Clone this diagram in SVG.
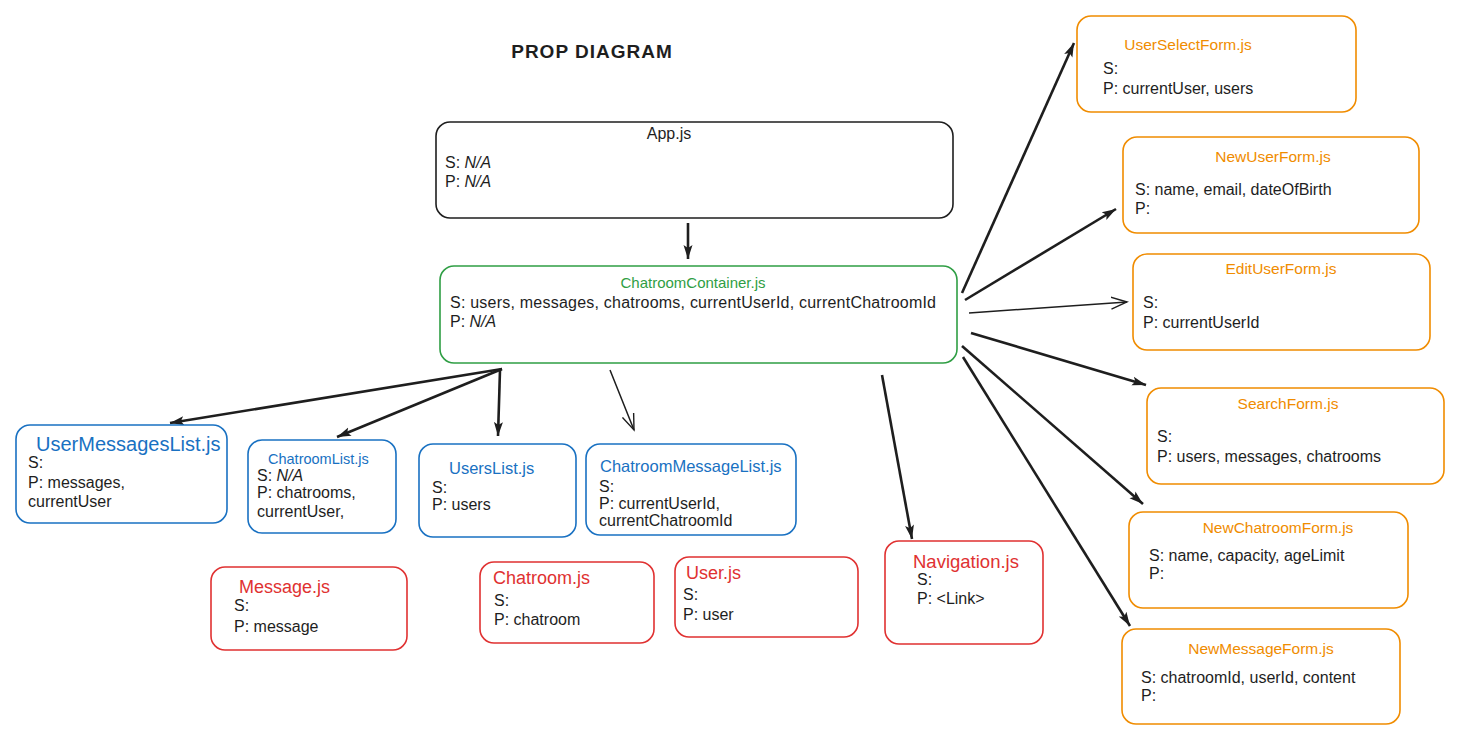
<svg xmlns="http://www.w3.org/2000/svg" width="1460" height="740" viewBox="0 0 1460 740">
<defs>
<marker id="ah" markerUnits="userSpaceOnUse" markerWidth="16" markerHeight="12" refX="14" refY="6" orient="auto">
<path d="M0,1.5 L14,6 L0,10.5 L3,6 z" fill="#1e1e1e"/>
</marker>
<marker id="ao" markerUnits="userSpaceOnUse" markerWidth="18" markerHeight="14" refX="16" refY="7" orient="auto">
<path d="M0,1 L16,7 L0,13" fill="none" stroke="#1e1e1e" stroke-width="1.4"/>
</marker>
<style>
text{font-family:"Liberation Sans",Arial,sans-serif;font-size:16px;fill:#1e1e1e}
.box{fill:#fff;stroke-width:1.6}
.k{stroke:#1e1e1e}.g{stroke:#2f9e44}.b{stroke:#1971c2}.r{stroke:#e03131}.o{stroke:#f08c00}
.tg{fill:#2f9e44}.tb{fill:#1971c2}.tr{fill:#e03131}.to{fill:#f08c00}
.c{text-anchor:middle}
.thick{stroke:#1e1e1e;stroke-width:2.6;fill:none;marker-end:url(#ah)}
.thin{stroke:#1e1e1e;stroke-width:1.5;fill:none;marker-end:url(#ao)}
</style>
</defs>
<rect width="1460" height="740" fill="#fff"/>
<text x="592" y="58" class="c" style="font-size:19px;font-weight:bold;letter-spacing:1px">PROP DIAGRAM</text>

<g id="connectors">
<line class="thick" x1="688" y1="223" x2="688" y2="259"/>
<line class="thick" x1="502" y1="369" x2="170" y2="423"/>
<line class="thick" x1="502" y1="369" x2="337" y2="437"/>
<line class="thick" x1="500" y1="370" x2="498" y2="436"/>
<line class="thin" x1="610" y1="370" x2="634" y2="430"/>
<line class="thick" x1="882" y1="375" x2="912" y2="539"/>
<line class="thick" x1="962" y1="293" x2="1074" y2="43"/>
<line class="thick" x1="965" y1="300" x2="1116" y2="209"/>
<line class="thin" x1="969" y1="313" x2="1127" y2="302"/>
<line class="thick" x1="971" y1="333" x2="1146" y2="385"/>
<line class="thick" x1="962" y1="346" x2="1143" y2="504"/>
<line class="thick" x1="963" y1="357" x2="1130" y2="626"/>
</g>

<g id="app">
<rect class="box k" x="436" y="122" width="517" height="96" rx="14"/>
<text x="669" y="139" class="c">App.js</text>
<text x="445" y="168">S: <tspan font-style="italic">N/A</tspan></text>
<text x="445" y="187">P: <tspan font-style="italic">N/A</tspan></text>
</g>

<g id="chatroomContainer">
<rect class="box g" x="440" y="266" width="517" height="97" rx="14"/>
<text x="693" y="288" class="c tg" style="font-size:15px">ChatroomContainer.js</text>
<text x="450" y="308" textLength="486" lengthAdjust="spacing">S: users, messages, chatrooms, currentUserId, currentChatroomId</text>
<text x="450" y="327">P: <tspan font-style="italic">N/A</tspan></text>
</g>

<g id="userMessagesList">
<rect class="box b" x="16" y="425" width="211" height="98" rx="14"/>
<text x="36" y="451" class="tb" style="font-size:20px">UserMessagesList.js</text>
<text x="28" y="468">S:</text>
<text x="28" y="488">P: messages,</text>
<text x="28" y="507">currentUser</text>
</g>

<g id="chatroomList">
<rect class="box b" x="248" y="440" width="148" height="93" rx="14"/>
<text x="268" y="464" class="tb" style="font-size:14.5px">ChatroomList.js</text>
<text x="257" y="481">S: <tspan font-style="italic">N/A</tspan></text>
<text x="257" y="498">P: chatrooms,</text>
<text x="257" y="517">currentUser,</text>
</g>

<g id="usersList">
<rect class="box b" x="419" y="444" width="157" height="93" rx="14"/>
<text x="449" y="474" class="tb" style="font-size:16.5px">UsersList.js</text>
<text x="432" y="493">S:</text>
<text x="432" y="510">P: users</text>
</g>

<g id="chatroomMessageList">
<rect class="box b" x="586" y="444" width="210" height="91" rx="14"/>
<text x="600" y="472" class="tb" style="font-size:16.5px">ChatroomMessageList.js</text>
<text x="599" y="492">S:</text>
<text x="599" y="509">P: currentUserId,</text>
<text x="599" y="526">currentChatroomId</text>
</g>

<g id="message">
<rect class="box r" x="211" y="567" width="196" height="83" rx="14"/>
<text x="239" y="593" class="tr" style="font-size:18px">Message.js</text>
<text x="234" y="611">S:</text>
<text x="234" y="632">P: message</text>
</g>

<g id="chatroom">
<rect class="box r" x="480" y="562" width="174" height="81" rx="14"/>
<text x="493" y="584" class="tr" style="font-size:18px">Chatroom.js</text>
<text x="494" y="606">S:</text>
<text x="494" y="625">P: chatroom</text>
</g>

<g id="user">
<rect class="box r" x="675" y="557" width="183" height="80" rx="14"/>
<text x="686" y="579" class="tr" style="font-size:18px">User.js</text>
<text x="683" y="600">S:</text>
<text x="683" y="620">P: user</text>
</g>

<g id="navigation">
<rect class="box r" x="885" y="541" width="158" height="103" rx="14"/>
<text x="913" y="568" class="tr" style="font-size:18.5px">Navigation.js</text>
<text x="917" y="585">S:</text>
<text x="917" y="604">P: &lt;Link&gt;</text>
</g>

<g id="userSelectForm">
<rect class="box o" x="1077" y="16" width="279" height="96" rx="14"/>
<text x="1188" y="50" class="c to" style="font-size:15.5px">UserSelectForm.js</text>
<text x="1103" y="74">S:</text>
<text x="1103" y="94">P: currentUser, users</text>
</g>

<g id="newUserForm">
<rect class="box o" x="1123" y="137" width="296" height="96" rx="14"/>
<text x="1273" y="162" class="c to" style="font-size:15.5px">NewUserForm.js</text>
<text x="1135" y="195">S: name, email, dateOfBirth</text>
<text x="1135" y="214">P:</text>
</g>

<g id="editUserForm">
<rect class="box o" x="1133" y="254" width="297" height="96" rx="14"/>
<text x="1281" y="274" class="c to" style="font-size:15.5px">EditUserForm.js</text>
<text x="1143" y="308">S:</text>
<text x="1143" y="328">P: currentUserId</text>
</g>

<g id="searchForm">
<rect class="box o" x="1147" y="388" width="297" height="96" rx="14"/>
<text x="1288" y="409" class="c to" style="font-size:15.5px">SearchForm.js</text>
<text x="1157" y="442">S:</text>
<text x="1157" y="462">P: users, messages, chatrooms</text>
</g>

<g id="newChatroomForm">
<rect class="box o" x="1129" y="512" width="279" height="96" rx="14"/>
<text x="1278" y="533" class="c to" style="font-size:15.5px">NewChatroomForm.js</text>
<text x="1149" y="561">S: name, capacity, ageLimit</text>
<text x="1149" y="579">P:</text>
</g>

<g id="newMessageForm">
<rect class="box o" x="1122" y="629" width="278" height="95" rx="14"/>
<text x="1261" y="654" class="c to" style="font-size:15.5px">NewMessageForm.js</text>
<text x="1141" y="683">S: chatroomId, userId, content</text>
<text x="1141" y="701">P:</text>
</g>
</svg>
